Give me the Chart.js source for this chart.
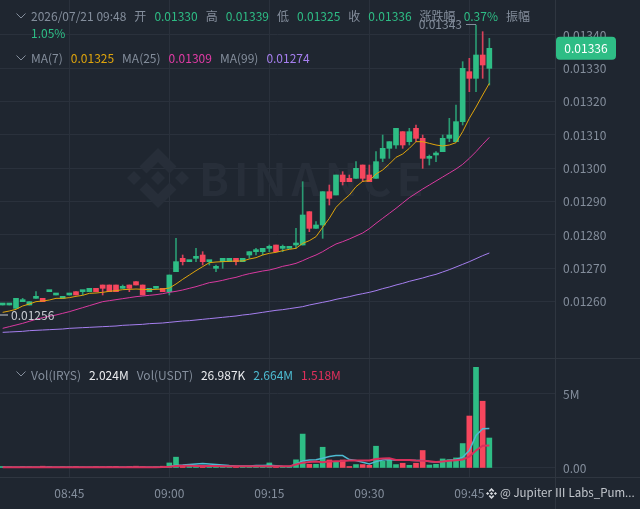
<!DOCTYPE html>
<html lang="zh">
<head>
  <meta charset="UTF-8">
  <title>IRYS 1m</title>
  <script src="https://cdn.jsdelivr.net/npm/chart.js"></script>
  <style>
    html, body {
      margin: 0;
      padding: 0;
      background: #1f2630;
      overflow: hidden;
    }
    #wrap {
      position: relative;
      width: 640px;
      height: 509px;
      font: 12px "Noto Sans CJK SC", "Noto Sans", sans-serif;
      color: #848e9c;
    }
    canvas {
      position: absolute;
      left: 0;
      top: 0;
    }
    .row {
      position: absolute;
      left: 31px;
      line-height: 17px;
      white-space: normal;
    }
    .row span {
      margin-right: 5.3px;
    }
    .chev {
      position: absolute;
      left: 16px;
      width: 10px;
      height: 6px;
    }
    .up { color: #2ebd85; }
    .y { color: #e0a50c; }
    .m { color: #e23ba6; }
    .p { color: #a67ff0; }
    .w { color: #eaecef; }
    .c { color: #4dbbd1; }
    .r { color: #e0305c; }
    #foot {
      position: absolute;
      left: 486px;
      top: 484px;
      color: #c4c8ce;
      font-size: 11.5px;
      line-height: 17px;
      white-space: nowrap;
    }
    #foot svg {
      vertical-align: -2px;
      margin-right: 3px;
    }
  </style>
</head>
<body>

<div id="wrap">
  <canvas id="kline" width="640" height="509"></canvas>

  <svg class="chev" style="top:13px" viewBox="0 0 10 6"><path d="M0.5 0.5 L5 5 L9.5 0.5" fill="none" stroke="#848e9c"/></svg>
  <div class="row" style="top:7px;width:510px">
    <span>2026/07/21 09:48</span> <span>开</span> <span class="up">0.01330</span> <span>高</span> <span class="up">0.01339</span> <span>低</span> <span class="up">0.01325</span> <span>收</span> <span class="up">0.01336</span> <span>涨跌幅</span> <span class="up">0.37%</span> <span>振幅</span> <span class="up">1.05%</span>
  </div>

  <svg class="chev" style="top:55px" viewBox="0 0 10 6"><path d="M0.5 0.5 L5 5 L9.5 0.5" fill="none" stroke="#848e9c"/></svg>
  <div class="row" style="top:49px">
    <span>MA(7)</span> <span class="y">0.01325</span> <span>MA(25)</span> <span class="m">0.01309</span> <span>MA(99)</span> <span class="p">0.01274</span>
  </div>

  <svg class="chev" style="top:371px" viewBox="0 0 10 6"><path d="M0.5 0.5 L5 5 L9.5 0.5" fill="none" stroke="#848e9c"/></svg>
  <div class="row" style="top:366px">
    <span>Vol(IRYS)</span> <span class="w">2.024M</span> <span>Vol(USDT)</span> <span class="w">26.987K</span> <span class="c">2.664M</span> <span class="r">1.518M</span>
  </div>

  <div id="foot"><svg width="11" height="11" viewBox="0 0 24 24"><path fill="#d8dbe0" d="M12 0 L18 6 L15.500 8.500 L12 5 L8.500 8.500 L6 6 Z M12 24 L6 18 L8.500 15.500 L12 19 L15.500 15.500 L18 18 Z M3.500 8.500 L7 12 L3.500 15.500 L0 12 Z M20.500 8.500 L24 12 L20.500 15.500 L17 12 Z M12 8.500 L15.500 12 L12 15.500 L8.500 12 Z"/></svg>@ Jupiter Ⅲ Labs_Pum...</div>
</div>

<script>
  // prices are in units of 0.00001, volumes in millions
  const times = ["08:35","08:36","08:37","08:38","08:39","08:40","08:41","08:42","08:43","08:44","08:45","08:46","08:47","08:48","08:49","08:50","08:51","08:52","08:53","08:54","08:55","08:56","08:57","08:58","08:59","09:00","09:01","09:02","09:03","09:04","09:05","09:06","09:07","09:08","09:09","09:10","09:11","09:12","09:13","09:14","09:15","09:16","09:17","09:18","09:19","09:20","09:21","09:22","09:23","09:24","09:25","09:26","09:27","09:28","09:29","09:30","09:31","09:32","09:33","09:34","09:35","09:36","09:37","09:38","09:39","09:40","09:41","09:42","09:43","09:44","09:45","09:46","09:47","09:48"];

  const opens = [1259,1259,1258,1260,1259,1261,1261,1263,1262,1261,1262,1263,1263,1263,1264,1265,1265,1265,1264,1265,1266,1265,1263,1264,1264,1263,1269,1273,1272,1273,1274,1272,1270,1272,1272,1273,1272,1274,1275,1275,1276,1277,1276,1276,1277,1277,1287,1282,1283,1293,1292,1298,1297,1297,1301,1298,1297,1303,1306,1307,1311,1308,1312,1309,1303,1304,1305,1309,1308,1314,1329,1327,1334,1330];
  const highs = [1259,1259,1261,1261,1260,1263,1261,1263,1262,1261,1262,1263,1263,1264,1264,1265,1265,1265,1265,1265,1266,1265,1264,1264,1264,1268,1279,1274,1272,1276,1275,1272,1271,1273,1273,1273,1273,1275,1276,1276,1277,1277,1277,1276,1282,1296,1287,1284,1293,1295,1298,1299,1298,1302,1301,1301,1305,1310,1308,1312,1311,1312,1313,1310,1304,1305,1310,1315,1319,1332,1333,1343,1341,1339];
  const lows = [1259,1259,1258,1260,1259,1261,1260,1263,1262,1261,1262,1262,1262,1263,1263,1262,1263,1263,1264,1263,1265,1262,1263,1264,1263,1262,1269,1271,1272,1272,1271,1271,1269,1270,1272,1271,1272,1273,1274,1274,1275,1275,1275,1276,1276,1277,1281,1282,1279,1289,1292,1295,1296,1297,1296,1296,1297,1302,1303,1306,1306,1307,1308,1300,1301,1302,1305,1308,1308,1313,1323,1323,1327,1325];
  const closes = [1259,1259,1261,1260,1260,1261,1260,1263,1262,1261,1262,1262,1263,1264,1263,1264,1263,1263,1264,1264,1265,1262,1264,1264,1263,1268,1272,1272,1272,1273,1272,1272,1270,1273,1273,1272,1273,1275,1275,1276,1276,1275,1276,1276,1277,1286,1282,1283,1293,1291,1298,1296,1296,1300,1297,1296,1302,1306,1308,1312,1307,1311,1309,1303,1303,1304,1309,1310,1314,1330,1327,1334,1331,1336];

  const ma7 = [1256.8,1257.2,1257.7,1258.7,1259.3,1260,1260.2,1260.5,1261,1261,1261.2,1261.6,1261.9,1262.5,1262.6,1262.8,1263.1,1263.3,1263.6,1263.7,1263.8,1263.7,1263.6,1263.7,1263.8,1264.1,1265.3,1266.7,1268,1269.3,1270.5,1271.7,1271.9,1272,1272.1,1272.2,1272.2,1272.8,1273.2,1274,1274.5,1274.8,1275.3,1275.7,1276,1277.5,1278.3,1279.5,1282.3,1285,1288.3,1290.3,1292,1294.5,1296.1,1296.3,1298.3,1299.5,1301.3,1303.3,1304.3,1306,1308,1308,1307.5,1307,1306.7,1307,1307.7,1311,1315,1318.4,1322,1325.5];
  const ma25 = [1252,1252.5,1253,1253.5,1254.1,1254.7,1255.2,1255.6,1256,1256.5,1257,1257.6,1258.2,1258.8,1259.4,1260,1260.3,1260.6,1260.9,1261.2,1261.5,1261.7,1261.9,1262.1,1262.4,1262.8,1263.1,1263.5,1264,1264.5,1265.1,1265.7,1266,1266.4,1266.9,1267.3,1267.9,1268.4,1268.8,1269.2,1269.5,1270,1270.6,1271,1271.5,1272.3,1273.2,1274,1275,1276.2,1277.3,1278,1278.8,1279.7,1280.6,1281.9,1283.5,1285,1286.5,1288,1289.6,1291.2,1292.5,1293.8,1295,1296.2,1297.4,1298.6,1299.8,1301.2,1303,1305,1307.2,1309.3];
  const ma99 = [1250.8,1250.9,1251,1251.1,1251.3,1251.4,1251.5,1251.6,1251.7,1251.8,1252,1252.1,1252.2,1252.3,1252.4,1252.5,1252.6,1252.7,1252.9,1253,1253.1,1253.2,1253.4,1253.5,1253.6,1253.8,1254,1254.2,1254.3,1254.5,1254.7,1254.9,1255.1,1255.3,1255.5,1255.7,1256,1256.2,1256.5,1256.8,1257.1,1257.4,1257.6,1257.9,1258.2,1258.5,1259,1259.4,1259.8,1260.2,1260.7,1261.1,1261.5,1262,1262.4,1262.8,1263.3,1263.9,1264.4,1265,1265.5,1266.1,1266.6,1267.1,1267.7,1268.2,1268.9,1269.6,1270.4,1271.2,1272,1272.9,1273.8,1274.6];

  const volumes = [0.1,0.08,0.06,0.1,0.09,0.07,0.12,0.1,0.06,0.09,0.08,0.1,0.07,0.06,0.09,0.08,0.1,0.11,0.07,0.1,0.12,0.09,0.06,0.08,0.12,0.34,0.73,0.12,0.1,0.12,0.15,0.13,0.1,0.1,0.08,0.1,0.08,0.1,0.07,0.09,0.34,0.13,0.1,0.08,0.55,2.29,0.25,0.25,1.4,0.54,0.39,0.54,0.1,0.23,0.23,0.18,1.47,0.45,0.54,0.23,0.32,0.18,0.32,1.18,0.2,0.25,0.61,0.57,0.68,1.65,3.51,6.8,4.51,2.024];
  const volMaFast = [0.05,0.05,0.05,0.05,0.05,0.05,0.05,0.05,0.05,0.05,0.05,0.05,0.05,0.05,0.05,0.05,0.05,0.05,0.05,0.05,0.05,0.05,0.05,0.05,0.06,0.1,0.18,0.2,0.24,0.27,0.3,0.27,0.24,0.2,0.16,0.14,0.13,0.14,0.16,0.17,0.18,0.15,0.12,0.1,0.25,0.48,0.54,0.55,0.66,0.77,0.84,0.84,0.57,0.5,0.39,0.27,0.43,0.54,0.57,0.52,0.52,0.52,0.5,0.5,0.43,0.39,0.43,0.5,0.57,0.73,1.18,2.2,2.65,2.664];
  const volMaSlow = [0.05,0.05,0.05,0.05,0.05,0.05,0.05,0.05,0.05,0.05,0.05,0.05,0.05,0.05,0.05,0.05,0.05,0.05,0.05,0.05,0.05,0.05,0.05,0.05,0.06,0.08,0.14,0.15,0.15,0.14,0.14,0.13,0.13,0.12,0.12,0.11,0.11,0.11,0.11,0.11,0.11,0.11,0.11,0.11,0.24,0.36,0.4,0.43,0.39,0.43,0.45,0.47,0.5,0.5,0.5,0.5,0.61,0.64,0.66,0.54,0.54,0.54,0.5,0.48,0.45,0.41,0.43,0.48,0.52,0.57,0.77,1.18,1.5,1.518];

  const priceTicks = [1260,1270,1280,1290,1300,1310,1320,1330,1340];
  const volTicks = [0,5];
  const timeTicks = [10,25,40,55,70];

  const GREEN = "#2ebd85";
  const RED = "#f6465d";
  const GREEN_WICK = "#2a9a72";
  const RED_WICK = "#d8415a";
  const GRID = "#2a313c";
  const TEXT = "#848e9c";
  const FONT = '"Noto Sans CJK SC", "Noto Sans", sans-serif';

  const candleColors = closes.map((c, i) => c >= opens[i] ? GREEN : RED);
  const wickColors = closes.map((c, i) => c >= opens[i] ? GREEN_WICK : RED_WICK);
  const points = (values) => values.map((v, i) => ({x: i, y: v}));
  const bars = (a, b) => a.map((v, i) => ({x: i, y: [v, b[i]]}));

  function diamond(ctx, x, y, r) {
    ctx.beginPath();
    ctx.moveTo(x, y - r);
    ctx.lineTo(x + r, y);
    ctx.lineTo(x, y + r);
    ctx.lineTo(x - r, y);
    ctx.closePath();
    ctx.fill();
  }

  function chevron(ctx, x, y, s, dir) {
    ctx.beginPath();
    ctx.moveTo(x, y + dir * 30 * s);
    ctx.lineTo(x + 18.500 * s, y + dir * 11.500 * s);
    ctx.lineTo(x + 11.500 * s, y + dir * 4.500 * s);
    ctx.lineTo(x, y + dir * 16 * s);
    ctx.lineTo(x - 11.500 * s, y + dir * 4.500 * s);
    ctx.lineTo(x - 18.500 * s, y + dir * 11.500 * s);
    ctx.closePath();
    ctx.fill();
  }

  // watermark goes under the candles
  const watermark = {
    id: "watermark",
    beforeDatasetsDraw(chart) {
      const ctx = chart.ctx;
      ctx.save();
      ctx.fillStyle = "#272e39";
      diamond(ctx, 158, 178, 7);
      diamond(ctx, 134, 178, 7);
      diamond(ctx, 182, 178, 7);
      chevron(ctx, 158, 178, 1, -1);
      chevron(ctx, 158, 178, 1, 1);
      ctx.font = "bold 44px " + FONT;
      ctx.textBaseline = "middle";
      ctx.letterSpacing = "5px";
      ctx.fillText("BINANCE", 199, 179);
      ctx.restore();
    }
  };

  // pane borders, high / low labels and the last price tag
  const overlay = {
    id: "overlay",
    afterDraw(chart) {
      const ctx = chart.ctx;
      const x = chart.scales.x;
      const y = chart.scales.y;
      const area = chart.chartArea;
      const paneEdge = Math.round(chart.scales.yVol.top) + 0.5;
      const bottom = Math.round(area.bottom) + 0.5;
      const right = Math.round(area.right) + 0.5;

      ctx.save();
      ctx.strokeStyle = "#2f3640";
      ctx.lineWidth = 1;
      ctx.beginPath();
      ctx.moveTo(0, paneEdge);
      ctx.lineTo(640, paneEdge);
      ctx.moveTo(0, bottom);
      ctx.lineTo(640, bottom);
      ctx.moveTo(right, 0);
      ctx.lineTo(right, 509);
      ctx.stroke();

      ctx.font = "12px " + FONT;
      ctx.textBaseline = "middle";

      // highest price
      const hi = Math.max(...highs);
      const hiX = x.getPixelForValue(highs.indexOf(hi));
      const hiY = y.getPixelForValue(hi) - 0.5;
      ctx.strokeStyle = TEXT;
      ctx.beginPath();
      ctx.moveTo(hiX - 10, hiY);
      ctx.lineTo(hiX, hiY);
      ctx.stroke();
      ctx.fillStyle = TEXT;
      ctx.textAlign = "right";
      ctx.fillText((hi / 1e5).toFixed(5), hiX - 14, hiY);

      // lowest price of the window, its candle is off to the left
      const loY = y.getPixelForValue(1256);
      ctx.strokeStyle = "#c8ccd2";
      ctx.beginPath();
      ctx.moveTo(0, loY);
      ctx.lineTo(8, loY);
      ctx.stroke();
      ctx.fillStyle = "#c8ccd2";
      ctx.textAlign = "left";
      ctx.fillText((1256 / 1e5).toFixed(5), 11, loY);

      // last price
      const last = closes[closes.length - 1];
      const lastY = y.getPixelForValue(last);
      ctx.fillStyle = GREEN;
      ctx.beginPath();
      ctx.roundRect(556, lastY - 11.5, 60, 23, 4);
      ctx.fill();
      ctx.fillStyle = "#ffffff";
      ctx.textAlign = "center";
      ctx.fillText((last / 1e5).toFixed(5), 586, lastY);
      ctx.restore();
    }
  };

  const lineSet = (label, values, color, axis, width) => ({
    type: "line",
    label: label,
    data: points(values),
    borderColor: color,
    borderWidth: width,
    pointRadius: 0,
    tension: 0,
    yAxisID: axis,
    order: 0
  });

  // the tick labels must not eat into the panes
  function fitRight(scale) {
    scale.width = 85;
    scale.paddingTop = 0;
    scale.paddingBottom = 0;
  }

  const chart = new Chart(document.getElementById("kline").getContext("2d"), {
    type: "bar",
    data: {
      datasets: [
        lineSet("MA(7)", ma7, "#e0a50c", "y", 1),
        lineSet("MA(25)", ma25, "#d93aa0", "y", 1),
        lineSet("MA(99)", ma99, "#a67ff0", "y", 1),
        lineSet("MA slow", volMaSlow, "#d9305c", "yVol", 2),
        lineSet("MA fast", volMaFast, "#4dbbd1", "yVol", 1.5),
        {
          label: "body",
          data: bars(opens, closes),
          backgroundColor: candleColors,
          barThickness: 5,
          minBarLength: 2,
          grouped: false,
          yAxisID: "y",
          order: 1
        },
        {
          label: "wick",
          data: bars(lows, highs),
          backgroundColor: wickColors,
          barThickness: 1,
          grouped: false,
          yAxisID: "y",
          order: 2
        },
        {
          label: "Vol(IRYS)",
          data: points(volumes),
          backgroundColor: candleColors,
          barThickness: 5,
          grouped: false,
          yAxisID: "yVol",
          order: 3
        }
      ]
    },
    options: {
      responsive: false,
      animation: false,
      events: [],
      layout: { padding: 0 },
      plugins: {
        legend: { display: false },
        tooltip: { enabled: false }
      },
      scales: {
        x: {
          type: "linear",
          min: -0.4,
          max: 82.85,
          offset: false,
          afterBuildTicks(scale) { scale.ticks = timeTicks.map(v => ({value: v})); },
          afterFit(scale) {
            scale.height = 32;
            scale.paddingLeft = 0;
            scale.paddingRight = 0;
          },
          grid: { color: GRID, offset: false, drawTicks: false },
          border: { display: false },
          ticks: {
            color: TEXT,
            font: { size: 12, family: FONT },
            padding: 9,
            maxRotation: 0,
            autoSkip: false,
            callback: (v) => times[v]
          }
        },
        y: {
          position: "right",
          stack: "panes",
          stackWeight: 358,
          min: 1243.1,
          max: 1350.5,
          afterBuildTicks(scale) { scale.ticks = priceTicks.map(v => ({value: v})); },
          afterFit: fitRight,
          grid: { color: GRID, drawTicks: false },
          border: { display: false },
          ticks: {
            color: TEXT,
            font: { size: 12, family: FONT },
            padding: 8,
            callback: (v) => (v / 1e5).toFixed(5)
          }
        },
        yVol: {
          position: "right",
          stack: "panes",
          stackWeight: 119,
          min: -0.61,
          max: 7.43,
          afterBuildTicks(scale) { scale.ticks = volTicks.map(v => ({value: v})); },
          afterFit: fitRight,
          grid: { color: GRID, drawTicks: false },
          border: { display: false },
          ticks: {
            color: TEXT,
            font: { size: 12, family: FONT },
            padding: 8,
            callback: (v) => v === 0 ? "0.00" : v + "M"
          }
        }
      }
    },
    plugins: [watermark, overlay]
  });
</script>

</body>
</html>
